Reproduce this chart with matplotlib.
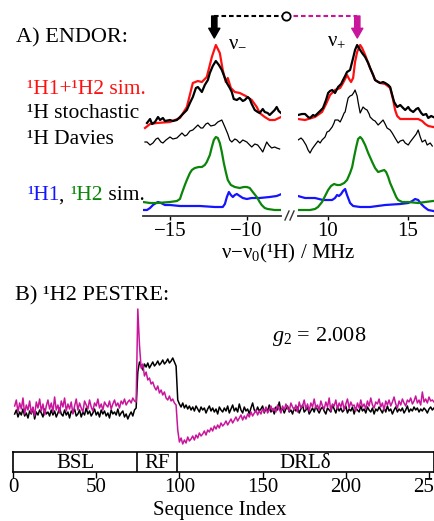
import numpy as np
import matplotlib
matplotlib.use('Agg')
import matplotlib.pyplot as plt
from matplotlib.lines import Line2D

plt.rcParams['font.family'] = ['Liberation Serif', 'DejaVu Serif']
plt.rcParams['mathtext.fontset'] = 'custom'
plt.rcParams['mathtext.rm'] = 'Liberation Serif'
plt.rcParams['mathtext.it'] = 'Liberation Serif:italic'
plt.rcParams['font.size'] = 15

# ---- panel A: ENDOR spectra, (MHz, intensity) pairs ----
red_left = [(-16.62, 87), (-16.29, 91), (-15.84, 92), (-14.99, 93), (-14.34, 97), (-13.89, 108),
            (-13.50, 132), (-13.17, 134), (-12.91, 133), (-12.59, 138), (-12.26, 158), (-12.00, 170),
            (-11.74, 162), (-11.55, 145), (-11.35, 133), (-11.22, 137), (-11.02, 127), (-10.76, 123),
            (-10.44, 122), (-10.05, 119), (-9.66, 115), (-9.33, 108), (-9.14, 102), (-8.81, 98),
            (-8.49, 95), (-8.16, 95), (-7.75, 98)]
stoch_left = [(-16.49, 92), (-16.29, 96), (-16.16, 91), (-15.97, 93), (-15.77, 98), (-15.64, 95),
              (-15.45, 97), (-15.32, 94), (-14.99, 95), (-14.80, 94), (-14.54, 95), (-14.34, 98),
              (-13.89, 105), (-13.69, 112), (-13.50, 118), (-13.30, 127), (-13.17, 128), (-12.91, 123),
              (-12.72, 130), (-12.52, 135), (-12.39, 142), (-12.20, 149), (-12.00, 154), (-11.80, 150),
              (-11.61, 145), (-11.41, 137), (-11.28, 132), (-11.09, 127), (-10.96, 123), (-10.83, 116),
              (-10.63, 115), (-10.44, 117), (-10.24, 114), (-10.11, 115), (-9.92, 118), (-9.79, 116),
              (-9.66, 111), (-9.46, 105), (-9.27, 103), (-9.14, 102), (-8.94, 106), (-8.81, 103),
              (-8.62, 102), (-8.49, 100), (-8.29, 103), (-8.16, 105), (-8.03, 108), (-7.90, 104),
              (-7.75, 102)]
davies_left = [(-16.62, 73), (-16.49, 73), (-16.29, 70), (-16.10, 72), (-15.90, 76), (-15.77, 77),
               (-15.58, 73), (-15.45, 72), (-15.25, 75), (-14.99, 78), (-14.80, 76), (-14.54, 77),
               (-14.34, 80), (-14.21, 82), (-14.02, 79), (-13.89, 80), (-13.69, 84), (-13.50, 85),
               (-13.30, 88), (-13.17, 90), (-12.98, 87), (-12.85, 87), (-12.65, 91), (-12.52, 92),
               (-12.33, 89), (-12.07, 90), (-11.87, 93), (-11.61, 95), (-11.41, 88), (-11.22, 81),
               (-11.09, 75), (-10.96, 73), (-10.76, 76), (-10.63, 75), (-10.44, 72), (-10.24, 75),
               (-9.98, 73), (-9.79, 70), (-9.66, 68), (-9.46, 71), (-9.27, 70), (-9.07, 66),
               (-8.94, 63), (-8.81, 68), (-8.68, 73), (-8.55, 70), (-8.36, 67), (-8.16, 68),
               (-8.03, 67), (-7.84, 66)]
green_left = [(-16.75, 13), (-16.29, 12), (-15.84, 12), (-14.99, 13), (-14.54, 14), (-14.34, 16),
              (-14.21, 22), (-14.02, 30), (-13.89, 35), (-13.69, 42), (-13.56, 45), (-13.37, 47),
              (-13.11, 48), (-12.91, 48), (-12.72, 50), (-12.59, 53), (-12.39, 60), (-12.26, 68),
              (-12.13, 75), (-12.00, 78), (-11.87, 77), (-11.74, 72), (-11.61, 63), (-11.48, 52),
              (-11.35, 43), (-11.22, 35), (-11.02, 30), (-10.76, 28), (-10.44, 27), (-10.18, 28),
              (-9.98, 28), (-9.79, 27), (-9.59, 23), (-9.33, 18), (-9.14, 13), (-9.01, 10),
              (-8.81, 7), (-8.62, 6), (-8.16, 5), (-7.71, 5)]
blue_left = [(-16.75, 5), (-16.49, 5), (-16.29, 7), (-16.10, 10), (-15.90, 12), (-15.77, 13),
             (-15.58, 12), (-15.32, 10), (-14.99, 10), (-14.34, 9), (-13.04, 9), (-12.07, 8),
             (-11.55, 8), (-11.41, 11), (-11.28, 18), (-11.15, 23), (-11.02, 20), (-10.89, 18),
             (-10.76, 20), (-10.63, 21), (-10.44, 19), (-10.24, 17), (-9.98, 16), (-9.66, 17),
             (-9.14, 17), (-8.49, 18), (-8.03, 19), (-7.71, 21)]

red_right = [(8.15, 96), (8.59, 95), (9.21, 98), (9.65, 103), (9.90, 111), (10.15, 120), (10.46, 125),
             (10.78, 127), (10.96, 132), (11.09, 136), (11.21, 140), (11.34, 136), (11.46, 133),
             (11.59, 137), (11.71, 153), (11.84, 163), (12.03, 170), (12.15, 167), (12.34, 160),
             (12.53, 152), (12.65, 147), (12.84, 140), (12.96, 135), (13.28, 132), (13.59, 131),
             (13.90, 127), (14.09, 115), (14.21, 105), (14.34, 99), (14.53, 96), (14.84, 96),
             (15.28, 96), (15.65, 96), (15.90, 94), (16.09, 91), (16.28, 89), (16.59, 88)]
stoch_right = [(8.15, 100), (8.40, 101), (8.59, 101), (8.78, 98), (8.90, 97), (9.09, 100), (9.21, 99),
               (9.40, 102), (9.53, 104), (9.71, 107), (9.90, 115), (10.03, 122), (10.15, 124),
               (10.28, 125), (10.46, 122), (10.65, 128), (10.84, 131), (10.96, 135), (11.09, 139),
               (11.21, 143), (11.40, 145), (11.59, 157), (11.71, 165), (11.84, 170), (12.03, 165),
               (12.15, 162), (12.34, 158), (12.53, 152), (12.65, 147), (12.84, 140), (12.96, 135),
               (13.15, 133), (13.28, 132), (13.46, 133), (13.59, 132), (13.78, 130), (13.90, 128),
               (14.03, 120), (14.15, 113), (14.34, 108), (14.53, 110), (14.71, 107), (14.84, 105),
               (15.03, 108), (15.15, 105), (15.34, 103), (15.53, 106), (15.65, 107), (15.84, 102),
               (15.96, 100), (16.15, 101), (16.28, 97), (16.46, 99), (16.59, 98)]
davies_right = [(8.15, 75), (8.34, 77), (8.46, 75), (8.65, 70), (8.78, 65), (8.90, 62), (9.03, 66),
                (9.21, 70), (9.40, 74), (9.53, 72), (9.65, 75), (9.84, 78), (9.96, 83), (10.09, 84),
                (10.28, 88), (10.40, 92), (10.46, 95), (10.65, 95), (10.78, 93), (10.90, 97),
                (11.03, 102), (11.09, 103), (11.21, 112), (11.28, 117), (11.40, 119), (11.53, 120),
                (11.65, 123), (11.71, 125), (11.84, 119), (11.90, 113), (12.03, 102), (12.21, 108),
                (12.34, 106), (12.46, 105), (12.59, 101), (12.65, 98), (12.84, 95), (12.96, 94),
                (13.15, 90), (13.28, 92), (13.46, 95), (13.59, 91), (13.71, 87), (13.90, 85),
                (14.03, 82), (14.21, 77), (14.40, 72), (14.53, 74), (14.71, 75), (14.84, 72),
                (15.03, 70), (15.15, 73), (15.34, 77), (15.53, 81), (15.65, 85), (15.78, 78),
                (15.90, 73), (16.09, 75), (16.21, 70), (16.40, 72), (16.53, 69)]
green_right = [(8.15, 5), (8.90, 5), (9.21, 6), (9.40, 8), (9.65, 13), (9.84, 19), (10.03, 25),
               (10.21, 29), (10.40, 31), (10.59, 30), (10.78, 30), (11.03, 32), (11.21, 35),
               (11.40, 42), (11.53, 48), (11.65, 58), (11.78, 68), (11.90, 76), (12.03, 78),
               (12.15, 76), (12.34, 70), (12.53, 62), (12.78, 53), (12.96, 47), (13.15, 43),
               (13.34, 44), (13.53, 45), (13.65, 43), (13.78, 38), (13.90, 32), (14.09, 25),
               (14.28, 18), (14.40, 15), (14.65, 13), (15.03, 13), (15.65, 12), (16.09, 13), (16.59, 14)]
blue_right = [(8.15, 19), (8.59, 17), (9.21, 17), (9.71, 15), (10.28, 15), (10.46, 17), (10.59, 20),
              (10.71, 19), (10.84, 21), (10.96, 24), (11.09, 26), (11.21, 20), (11.40, 12),
              (11.59, 9), (12.03, 8), (12.65, 8), (13.59, 10), (14.53, 11), (15.03, 12), (15.28, 14),
              (15.46, 16), (15.65, 15), (15.84, 11), (16.03, 8), (16.28, 5), (16.59, 4)]

nu_minus, nu_plus = -12.1, 11.85
left_ticks = [-15, -10]
right_ticks = [10, 15]

# ---- panel B: PESTRE traces (index 1..253) ----
black_seq = [36, 40, 33, 38, 35, 41, 34, 37, 32, 39,
             36, 42, 31, 38, 35, 40, 37, 33, 41, 36,
             38, 34, 40, 35, 39, 33, 37, 42, 36, 34,
             40, 35, 38, 32, 39, 37, 41, 34, 36, 40,
             33, 38, 35, 42, 36, 39, 34, 37, 41, 35,
             38, 33, 40, 36, 39, 34, 37, 32, 40, 36,
             38, 35, 41, 34, 37, 39, 33, 36, 31, 35,
             38, 34, 40, 42,
             78, 88, 84, 80, 86, 83, 87, 82, 85, 88, 84, 86,
             89, 85, 87, 90, 86, 88, 91, 87, 89, 92, 88, 84,
             50, 46, 43, 47, 42, 45, 41, 44, 40, 43,
             39, 44, 41, 38, 43, 40, 42, 37, 41, 44,
             39, 42, 38, 41, 36, 43, 40, 38, 42, 39,
             44, 37, 41, 45, 39, 42, 38, 46, 40, 37,
             43, 39, 41, 36, 42, 47, 40, 38, 43, 39,
             41, 44, 37, 42, 39, 45, 38, 41, 36, 43,
             40, 48, 39, 42, 37, 41, 44, 38, 40, 36,
             42, 39, 43, 37, 41, 45, 38, 40, 43, 36,
             39, 42, 38, 44, 40, 37, 41, 43, 39, 36,
             42, 40, 38, 45, 41, 37, 43, 39, 42, 38,
             40, 44, 37, 41, 39, 43, 36, 42, 40, 38,
             44, 39, 41, 37, 43, 40, 38, 42, 36, 41,
             39, 43, 40, 37, 42, 38, 44, 39, 41, 36,
             40, 43, 38, 41, 39, 42, 37, 40, 44, 38,
             41, 39, 43, 40, 42,
             38, 41, 39, 42, 40, 37, 41, 43, 40, 42]
magenta_seq = [44, 50, 38, 47, 41, 52, 36, 45, 40, 49,
               37, 43, 34, 48, 42, 51, 39, 46, 35, 44,
               50, 41, 47, 38, 53, 40, 45, 37, 49, 43,
               52, 39, 46, 41, 48, 36, 44, 51, 40, 47,
               42, 38, 49, 45, 41, 50, 43, 39, 47, 44,
               51, 42, 46, 40, 48, 45, 43, 49, 41, 46,
               50, 44, 47, 42, 49, 46, 51, 45, 48, 50,
               47, 52, 49, 48,
               141, 105, 82, 86, 74, 78, 70, 72, 66, 68, 63, 60,
               64, 57, 60, 55, 58, 52, 50, 54, 49, 51, 47, 45,
               20, 8, 12, 6, 10, 7, 13, 9, 11, 14,
               10, 15, 12, 17, 14, 16, 19, 15, 20, 18,
               22, 19, 24, 21, 25, 22, 27, 24, 26, 29,
               25, 28, 31, 27, 30, 33, 29, 32, 35, 30,
               34, 31, 36, 33, 38, 34, 37, 40, 35, 39,
               36, 41, 38, 43, 37, 40, 44, 39, 42, 38,
               45, 41, 37, 44, 40, 46, 42, 39, 47, 43,
               40, 45, 38, 48, 42, 44, 50, 41, 46, 39,
               47, 43, 51, 42, 45, 40, 49, 44, 41, 48,
               43, 52, 39, 46, 44, 50, 41, 47, 43, 49,
               40, 46, 51, 42, 48, 44, 45, 39, 47, 42,
               50, 43, 46, 41, 49, 44, 52, 45, 42, 48,
               46, 51, 43, 47, 40, 49, 45, 50, 44, 48,
               53, 46, 42, 49, 45, 51, 47, 44, 50, 48,
               52, 46, 49, 54, 47, 50, 45, 58, 48, 51,
               47, 53, 49, 50, 48]
seg_labels = ['BSL', 'RF', 'DRLδ']
seg_edges = [0, 74.5, 98.5, 253]
seq_ticks = [0, 50, 100, 150, 200, 250]

RED = '#ff1010'
GREEN = '#0a850a'
BLUE = '#1414ff'
MAG = '#c8169c'

W, H = 435, 521
fig = plt.figure(figsize=(W / 100, H / 100), dpi=100)


def box(x0, y0, x1, y1):
    return [x0 / W, 1 - y1 / H, (x1 - x0) / W, (y1 - y0) / H]


def xy(pairs):
    return np.array(pairs).T


axL = fig.add_axes(box(143, 30, 281, 216))
axR = fig.add_axes(box(298, 30, 435, 216))
for ax, xl, ticks, sets in [
        (axL, (-16.75, -7.75), left_ticks, (blue_left, green_left, davies_left, red_left, stoch_left)),
        (axR, (8.15, 16.7), right_ticks, (blue_right, green_right, davies_right, red_right, stoch_right))]:
    b, g, d, r, s = sets
    ax.plot(*xy(b), color=BLUE, lw=1.6)
    ax.plot(*xy(g), color=GREEN, lw=1.6)
    ax.plot(*xy(d), color='k', lw=0.9)
    ax.plot(*xy(r), color=RED, lw=1.6)
    ax.plot(*xy(s), color='k', lw=1.6)
    ax.set_xlim(*xl)
    ax.set_ylim(-1, 185)
    ax.set_xticks(ticks)
    ax.set_yticks([])
    for sp in ['top', 'left', 'right']:
        ax.spines[sp].set_visible(False)
    ax.spines['bottom'].set_linewidth(1.3)
    ax.spines['bottom'].set_color('#333333')
    ax.tick_params(axis='x', direction='out', length=3, width=1, pad=1, labelsize=15)
    ax.patch.set_visible(False)

# axis break marks
for dx in (0, 5):
    fig.add_artist(Line2D([(285 + dx) / W, (289 + dx) / W], [1 - 220 / H, 1 - 211 / H],
                          color='#333333', lw=1.0, transform=fig.transFigure))


def to_fig(ax, x, y):
    return fig.transFigure.inverted().transform(ax.transData.transform((x, y)))


pA = to_fig(axL, nu_minus, 199)
pB = to_fig(axR, nu_plus, 199)
mid = (pA[0] + pB[0]) / 2
fig.add_artist(Line2D([pA[0], mid], [pA[1], pA[1]], color='k', lw=1.5, ls=(0, (2.2, 1.4)),
                      transform=fig.transFigure))
fig.add_artist(Line2D([mid, pB[0]], [pA[1], pA[1]], color=MAG, lw=1.5, ls=(0, (2.2, 1.4)),
                      transform=fig.transFigure))
fig.add_artist(Line2D([mid], [pA[1]], marker='o', ms=6, mfc='white', mec='k', mew=1.3,
                      transform=fig.transFigure))
arrow = 'simple,head_length=0.7,head_width=0.8,tail_width=0.38'
axL.annotate('', xy=(nu_minus, 177), xytext=(nu_minus, 199), annotation_clip=False,
             arrowprops=dict(arrowstyle=arrow, color='k', shrinkA=0, shrinkB=0, mutation_scale=10))
axR.annotate('', xy=(nu_plus, 177), xytext=(nu_plus, 199), annotation_clip=False,
             arrowprops=dict(arrowstyle=arrow, color=MAG, shrinkA=0, shrinkB=0, mutation_scale=10))
axL.text(-11.2, 174, 'ν$_{-}$', ha='left', va='center', fontsize=15)
axR.text(9.95, 174, 'ν$_{+}$', ha='left', va='center', fontsize=15)

fig.text(16 / W, 1 - 38 / H, 'A) ENDOR:', va='center', fontsize=16)
fig.text(27 / W, 1 - 89 / H, '¹H1+¹H2 sim.', va='center', color=RED, fontsize=15.5)
fig.text(27 / W, 1 - 114 / H, '¹H stochastic', va='center', fontsize=15.5)
fig.text(27 / W, 1 - 139 / H, '¹H Davies', va='center', fontsize=15.5)
t = fig.text(27 / W, 1 - 196 / H, '¹H1', va='center', color=BLUE, fontsize=15.5)
for s, c in [(', ', 'k'), ('¹H2', GREEN), (' sim.', 'k')]:
    t = axL.annotate(s, xy=(1, 0), xycoords=t, va='bottom', ha='left', color=c,
                     fontsize=15.5, annotation_clip=False)
fig.text(288 / W, 1 - 253 / H, 'ν−ν$_0$(¹H) / MHz', ha='center', va='center', fontsize=15)

# ---- panel B ----
axB = fig.add_axes(box(13, 300, 434, 450))
idx = np.arange(1, len(black_seq) + 1)
axB.plot(idx, black_seq, color='k', lw=1.1)
axB.plot(np.arange(1, len(magenta_seq) + 1), magenta_seq, color=MAG, lw=1.1)
axB.set_xlim(seg_edges[0], seg_edges[-1])
axB.set_ylim(0, 150)
axB.axis('off')

axS = fig.add_axes(box(13, 452, 434, 472))
axS.set_xlim(seg_edges[0], seg_edges[-1])
axS.set_ylim(0, 1)
axS.set_yticks([])
axS.set_xticks(seq_ticks)
axS.tick_params(axis='x', direction='out', length=4, width=1, pad=0, labelsize=15)
for sp in axS.spines.values():
    sp.set_linewidth(1.2)
for e in seg_edges[1:-1]:
    axS.axvline(e, color='k', lw=1.2)
for lab, a, b in zip(seg_labels, seg_edges[:-1], seg_edges[1:]):
    axS.text((a + b) / 2, 0.45, lab, ha='center', va='center', fontsize=15)
axS.set_xlabel('Sequence Index', fontsize=15, labelpad=-1)
axS.xaxis.set_label_coords(0.49, -1.45)

fig.text(15 / W, 1 - 296 / H, 'B) ¹H2 PESTRE:', va='center', fontsize=16)
fig.text(272 / W, 1 - 337 / H, '$g_2$ = 2.008', va='center', fontsize=16)

fig.savefig('out.png', dpi=100)
